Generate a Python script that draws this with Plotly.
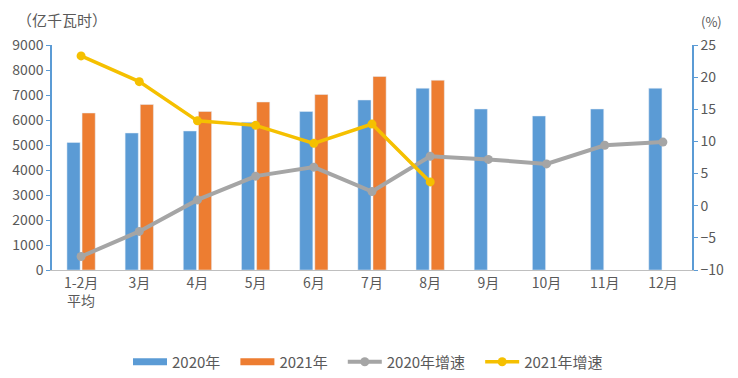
import plotly.graph_objects as go

categories = ["1-2月<br>平均", "3月", "4月", "5月", "6月", "7月", "8月", "9月", "10月", "11月", "12月"]
gen_2020 = [5100, 5480, 5560, 5910, 6340, 6800, 7270, 6440, 6160, 6440, 7270]
gen_2021 = [6280, 6620, 6340, 6720, 7020, 7740, 7590, None, None, None, None]
growth_2020 = [-7.9, -4.0, 0.9, 4.6, 6.0, 2.2, 7.7, 7.2, 6.5, 9.4, 9.9]
growth_2021 = [23.3, 19.3, 13.2, 12.5, 9.7, 12.7, 3.7, None, None, None, None]

FONT = "Noto Sans CJK SC, Noto Sans, sans-serif"
TXT = "#595959"
BLUE, ORANGE, GRAY, YELLOW = "#5B9BD5", "#ED7D31", "#A5A5A5", "#F5C000"
PAD = "\u00a0\u00a0\u00a0"

fig = go.Figure()
fig.add_trace(go.Bar(x=categories, y=gen_2020, name="2020年", marker_color=BLUE,
                     legendgroup="a", showlegend=False))
fig.add_trace(go.Bar(x=categories, y=gen_2021, name="2021年", marker_color=ORANGE,
                     legendgroup="b", showlegend=False))
# legend swatches drawn as wide bars (Excel style)
fig.add_trace(go.Scatter(x=[None], y=[None], name="2020年" + PAD, mode="lines",
                         line=dict(color=BLUE, width=7), legendgroup="a"))
fig.add_trace(go.Scatter(x=[None], y=[None], name="2021年" + PAD, mode="lines",
                         line=dict(color=ORANGE, width=7), legendgroup="b"))
fig.add_trace(go.Scatter(x=categories, y=growth_2020, name="2020年增速" + PAD, yaxis="y2",
                         mode="lines+markers", line=dict(color=GRAY, width=4),
                         marker=dict(size=9, color=GRAY)))
fig.add_trace(go.Scatter(x=categories, y=growth_2021, name="2021年增速", yaxis="y2",
                         mode="lines+markers", line=dict(color=YELLOW, width=3.5),
                         marker=dict(size=9, color=YELLOW)))

# page body has an 8px margin: figure occupies (8,8)-(738,378)
fig.update_layout(
    width=730, height=370,
    margin=dict(l=44, r=46, t=37, b=108),
    paper_bgcolor="white", plot_bgcolor="white",
    font=dict(family=FONT, size=13, color=TXT),
    barmode="group", bargap=0.48, bargroupgap=0.13,
    xaxis=dict(showline=True, linecolor="#BFBFBF", linewidth=1, ticks="",
               range=[-0.5, len(categories) - 0.5],
               automargin=False, tickfont=dict(size=14, color=TXT)),
    yaxis=dict(range=[0, 9000], dtick=1000, showgrid=False, showline=True,
               linecolor=BLUE, linewidth=1.5, ticks="outside", ticklen=4,
               tickcolor=BLUE, zeroline=False, automargin=False,
               tickfont=dict(size=14, color=TXT)),
    yaxis2=dict(range=[-10, 25], dtick=5, overlaying="y", side="right", showgrid=False,
                showline=True, linecolor=BLUE, linewidth=1.5, ticks="outside",
                ticklen=4, tickcolor=BLUE, zeroline=False, automargin=False,
                tickfont=dict(size=14, color=TXT)),
    legend=dict(orientation="h", xref="container", yref="container",
                x=(360 - 0) / 730, xanchor="center", y=1 - 354 / 370, yanchor="middle",
                font=dict(size=15, color=TXT), traceorder="normal", itemwidth=34),
    showlegend=True,
    annotations=[
        dict(text="（亿千瓦时）", xref="paper", yref="paper", x=-0.058, y=1.112,
             xanchor="left", yanchor="middle", showarrow=False,
             font=dict(size=15, color=TXT)),
        dict(text="(%)", xref="paper", yref="paper", x=1.03, y=1.105,
             xanchor="center", yanchor="middle", showarrow=False,
             font=dict(size=13, color=TXT)),
    ],
)

fig.write_html("out.html")
